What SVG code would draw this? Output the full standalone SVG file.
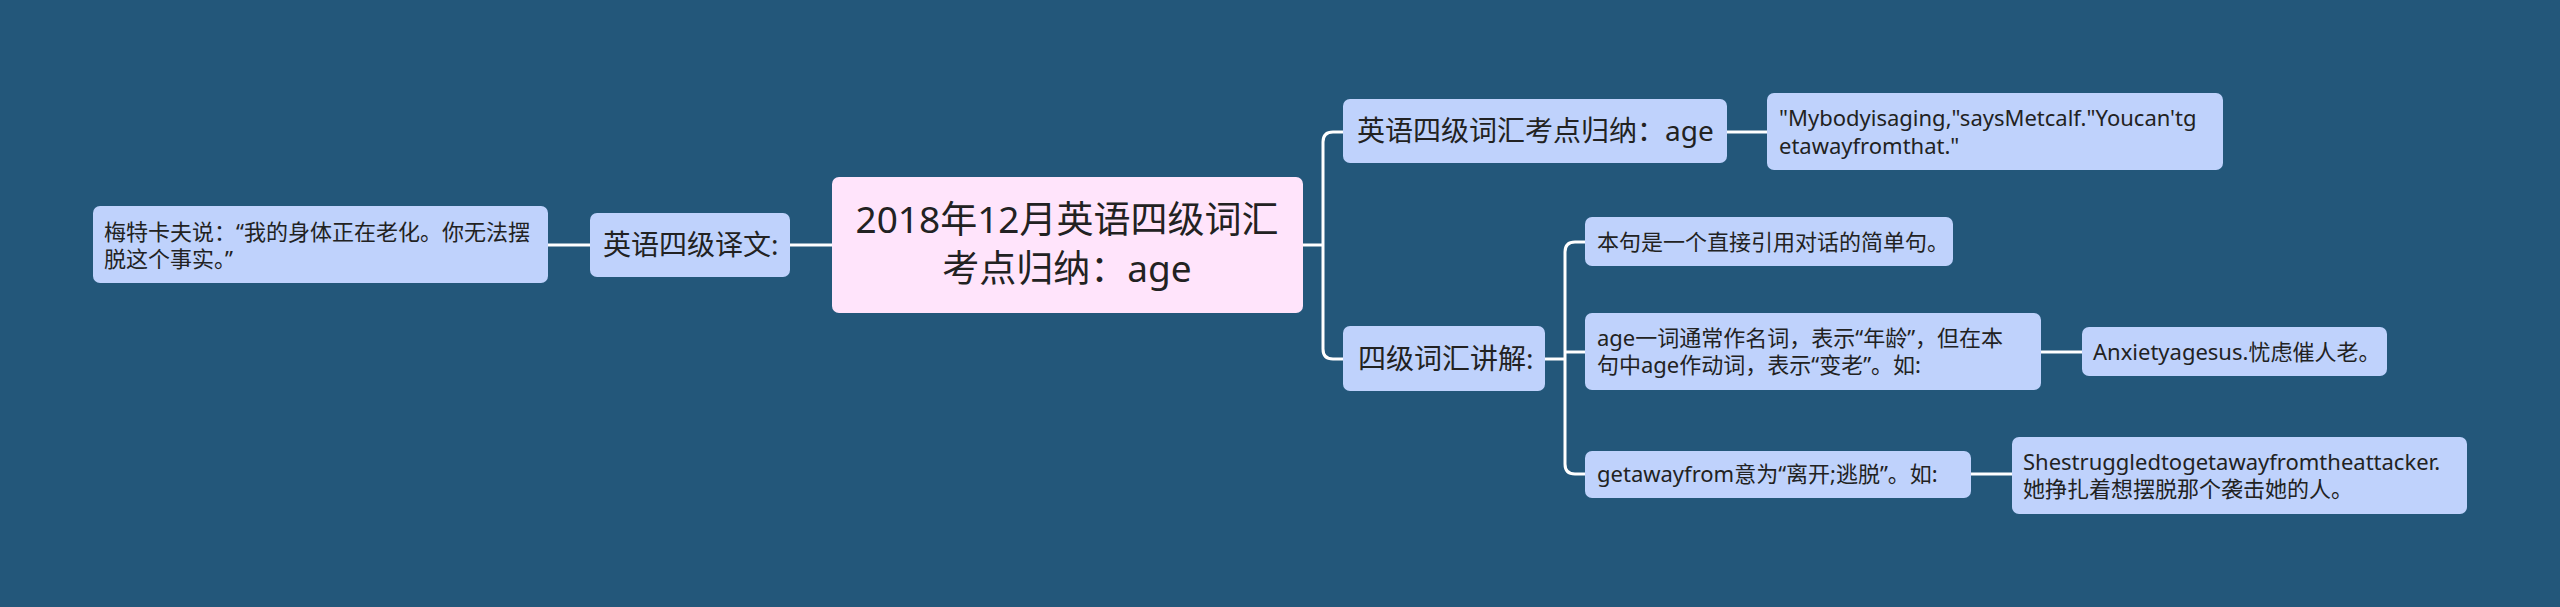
<svg xmlns="http://www.w3.org/2000/svg" width="2560" height="607" viewBox="0 0 2560 607">
<style>
.bg{fill:#23577a}
.box{fill:#bfd2fc}
.root{fill:#ffe4fb}
.t{font-family:"Noto Sans","Noto Sans CJK SC",sans-serif;fill:#222}
.s{font-size:22px}
.m{font-size:28px}
.l{font-size:37px}
.c{fill:none;stroke:#ffffff;stroke-width:3}
</style>
<rect class="bg" x="0" y="0" width="2560" height="607"/>
<g id="connectors">
<path class="c" d="M548,245 H590"/>
<path class="c" d="M790,245 H832"/>
<path class="c" d="M1303,245 H1323"/>
<path class="c" d="M1343,132 H1333 Q1323,132 1323,142 V349 Q1323,359 1333,359 H1343"/>
<path class="c" d="M1727,132 H1767"/>
<path class="c" d="M1545,359 H1565"/>
<path class="c" d="M1585,242 H1575 Q1565,242 1565,252 V464 Q1565,474 1575,474 H1585"/>
<path class="c" d="M1565,352 H1585"/>
<path class="c" d="M2041,352 H2082"/>
<path class="c" d="M1971,474 H2012"/>
</g>
<g id="node-left-note">
<rect class="box" x="93" y="206" width="455" height="77" rx="7"/>
<text class="t s" x="104" y="240">梅特卡夫说：“我的身体正在老化。你无法摆</text>
<text class="t s" x="104" y="267">脱这个事实。”</text>
</g>
<g id="node-translation">
<rect class="box" x="590" y="213" width="200" height="64" rx="7"/>
<text class="t m" x="603" y="255">英语四级译文:</text>
</g>
<g id="node-root">
<rect class="root" x="832" y="177" width="471" height="136" rx="7"/>
<text class="t l" x="1067" y="233" text-anchor="middle">2018年12月英语四级词汇</text>
<text class="t l" x="1067" y="282" text-anchor="middle">考点归纳：age</text>
</g>
<g id="node-branch1">
<rect class="box" x="1343" y="99" width="384" height="64" rx="7"/>
<text class="t m" x="1357" y="141">英语四级词汇考点归纳：age</text>
</g>
<g id="node-mybody">
<rect class="box" x="1767" y="93" width="456" height="77" rx="7"/>
<text class="t s" x="1779" y="126">"Mybodyisaging,"saysMetcalf."Youcan'tg</text>
<text class="t s" x="1779" y="154">etawayfromthat."</text>
</g>
<g id="node-branch2">
<rect class="box" x="1343" y="326" width="202" height="65" rx="7"/>
<text class="t m" x="1358" y="369">四级词汇讲解:</text>
</g>
<g id="node-benju">
<rect class="box" x="1585" y="217" width="368" height="49" rx="7"/>
<text class="t s" x="1597" y="250">本句是一个直接引用对话的简单句。</text>
</g>
<g id="node-age">
<rect class="box" x="1585" y="313" width="456" height="77" rx="7"/>
<text class="t s" x="1597" y="346">age一词通常作名词，表示“年龄”，但在本</text>
<text class="t s" x="1597" y="373">句中age作动词，表示“变老”。如:</text>
</g>
<g id="node-anxiety">
<rect class="box" x="2082" y="327" width="305" height="49" rx="7"/>
<text class="t s" x="2093" y="360">Anxietyagesus.忧虑催人老。</text>
</g>
<g id="node-getaway">
<rect class="box" x="1585" y="451" width="386" height="47" rx="7"/>
<text class="t s" x="1597" y="482">getawayfrom意为“离开;逃脱”。如:</text>
</g>
<g id="node-struggled">
<rect class="box" x="2012" y="437" width="455" height="77" rx="7"/>
<text class="t s" x="2023" y="470">Shestruggledtogetawayfromtheattacker.</text>
<text class="t s" x="2023" y="497">她挣扎着想摆脱那个袭击她的人。</text>
</g>
</svg>
